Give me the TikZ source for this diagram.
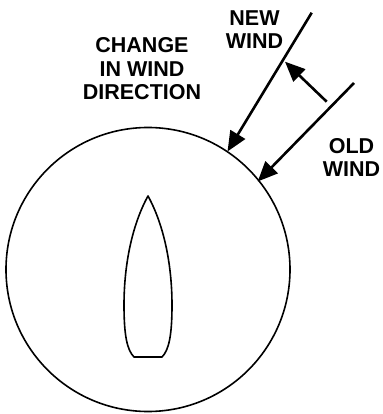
\documentclass[tikz,border=0pt]{standalone}
\usepackage{fontspec}
\setmainfont{Liberation Sans}
\usetikzlibrary{arrows.meta}
\begin{document}
\begin{tikzpicture}[x=1pt,y=-1pt,
  lbl/.style={font=\bfseries\fontsize{21.5}{23.2}\selectfont,align=center,inner sep=0pt},
  wind/.style={line width=2.6pt,-{Triangle[length=20pt,width=17pt]}},
  outline/.style={line width=1.6pt}]
\useasboundingbox (0,0) rectangle (382,414);
\draw[outline] (148,269.5) circle[radius=142];
\draw[outline,line join=round] (148,196) .. controls (132,225) and (124,265) .. (124,305)
  .. controls (124,335) and (127,350) .. (134,357) -- (162,357)
  .. controls (169,350) and (172,335) .. (172,305)
  .. controls (172,265) and (164,225) .. (148,196) -- cycle;
\coordinate (newtop) at (311.7,12.7);
\coordinate (newtip) at (227.5,151.5);
\coordinate (oldtop) at (354,83);
\coordinate (oldtip) at (257.7,181.5);
\coordinate (chtail) at (326.7,101.7);
\coordinate (chtip) at (285,61.7);
\draw[wind] (newtop) -- (newtip);
\draw[wind] (oldtop) -- (oldtip);
\draw[wind] (chtail) -- (chtip);
\node[lbl] (newlbl) at (254.5,30) {NEW\\WIND};
\node[lbl] (chlbl) at (142,68.7) {CHANGE\\IN WIND\\DIRECTION};
\node[lbl] (oldlbl) at (351.5,157.2) {OLD\\WIND};
\end{tikzpicture}
\end{document}
